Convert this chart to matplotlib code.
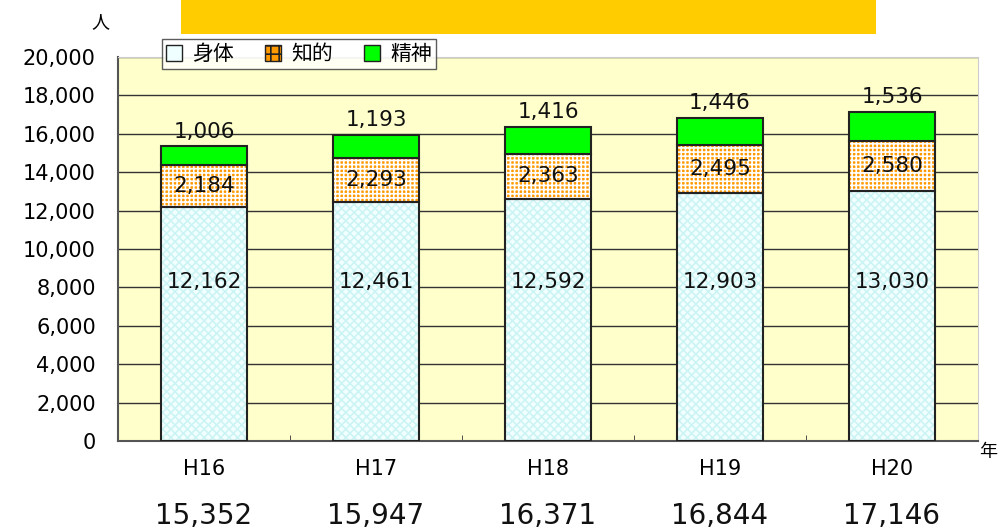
import matplotlib
matplotlib.use("Agg")
import matplotlib.pyplot as plt
from matplotlib.patches import Rectangle, Patch
import numpy as np

plt.rcParams['font.family'] = ['DejaVu Sans', 'Noto Sans CJK JP']
cjk = ['Noto Sans CJK JP', 'DejaVu Sans']

years = ["H16", "H17", "H18", "H19", "H20"]
shintai = [12162, 12461, 12592, 12903, 13030]
chiteki = [2184, 2293, 2363, 2495, 2580]
seishin = [1006, 1193, 1416, 1446, 1536]
series_names = ["身体", "知的", "精神"]

totals = [a + b + c for a, b, c in zip(shintai, chiteki, seishin)]

fig = plt.figure(figsize=(10, 5.29), dpi=100)
ax = fig.add_axes([0.118, 0.1664, 0.86, 0.726])
ax.set_facecolor("#FFFFCC")

x = np.arange(len(years))
w = 0.5
bottom2 = np.array(shintai)
bottom3 = bottom2 + np.array(chiteki)

plt.rcParams['hatch.linewidth'] = 1.2

# body segment: pale cyan with a fine diamond pattern
ax.bar(x, shintai, w, color="#F2FFFF", edgecolor="none", zorder=2)
ax.bar(x, shintai, w, color="none", edgecolor="#CDF4F4", hatch="xxxx", linewidth=0, zorder=3)
ax.bar(x, shintai, w, color="none", edgecolor="#222222", linewidth=1.5, zorder=4)

# intellectual: orange checker look
ax.bar(x, chiteki, w, bottom=bottom2, color="#FF9900", edgecolor="none", zorder=2)
ax.bar(x, chiteki, w, bottom=bottom2, color="none", edgecolor="white", hatch="++++", linewidth=0, zorder=3)
ax.bar(x, chiteki, w, bottom=bottom2, color="none", edgecolor="#222222", linewidth=1.5, zorder=4)

# mental
ax.bar(x, seishin, w, bottom=bottom3, color="#00FF00", edgecolor="#222222", linewidth=1.5, zorder=4)

lbl = dict(ha="center", va="center", fontsize=15.5, color="#111111", zorder=6)
for i in range(len(years)):
    ax.text(x[i], 8300, f"{shintai[i]:,}", **lbl)
    ax.text(x[i], bottom2[i] + chiteki[i] / 2, f"{chiteki[i]:,}", **lbl)
    ax.text(x[i], totals[i] + 750, f"{seishin[i]:,}", **lbl)

ax.set_xlim(-0.5, len(years) - 0.5)
ax.set_ylim(0, 20000)
ax.set_yticks(np.arange(0, 20001, 2000))
ax.set_yticklabels([f"{v:,}" for v in range(0, 20001, 2000)], fontsize=15)
ax.yaxis.grid(True, color="#333333", linewidth=1.0, zorder=1)
ax.set_axisbelow(True)
ax.tick_params(axis="y", length=0, pad=16)

ax.set_xticks(x)
ax.set_xticklabels(years, fontsize=15)
ax.set_xticks(np.arange(0.5, len(years) - 1, 1), minor=True)
ax.tick_params(axis="x", which="major", length=0, pad=13)
ax.tick_params(axis="x", which="minor", direction="in", length=4, color="#333333")

for s in ["left", "bottom"]:
    ax.spines[s].set_color("#555555")
    ax.spines[s].set_linewidth(1.5)
for s in ["top", "right"]:
    ax.spines[s].set_color("#CCCCCC")
    ax.spines[s].set_linewidth(0.8)

# totals under the axis
for i in range(len(years)):
    ax.annotate(f"{totals[i]:,}", xy=(x[i], 0), xycoords="data",
                xytext=(0, -54), textcoords="offset points",
                ha="center", va="center", fontsize=20, color="#111111")

fig.text(0.100, 0.958, "人", ha="center", va="center", fontsize=13, family=cjk)
fig.text(0.988, 0.145, "年", ha="center", va="center", fontsize=13, family=cjk)

# yellow title band (text lies outside the visible area)
fig.patches.append(Rectangle((0.181, 0.9357), 0.695, 0.07, transform=fig.transFigure,
                             facecolor="#FFCC00", edgecolor="none", zorder=0))

handles = [
    Patch(facecolor="#EFFFFF", edgecolor="#222222", label=series_names[0]),
    Patch(facecolor="#FF9900", edgecolor="#222222", hatch="++", label=series_names[1]),
    Patch(facecolor="#00FF00", edgecolor="#222222", label=series_names[2]),
]
leg = fig.legend(handles=handles, loc="upper left", bbox_to_anchor=(0.162, 0.926),
                 ncol=3, frameon=True, fancybox=False,
                 prop={'family': cjk, 'size': 15},
                 handlelength=0.75, handleheight=0.75, handletextpad=0.5,
                 columnspacing=1.5, borderpad=0.2, borderaxespad=0)
leg.get_frame().set_edgecolor("#333333")
leg.get_frame().set_linewidth(1.0)

fig.savefig("out.png", dpi=100)
